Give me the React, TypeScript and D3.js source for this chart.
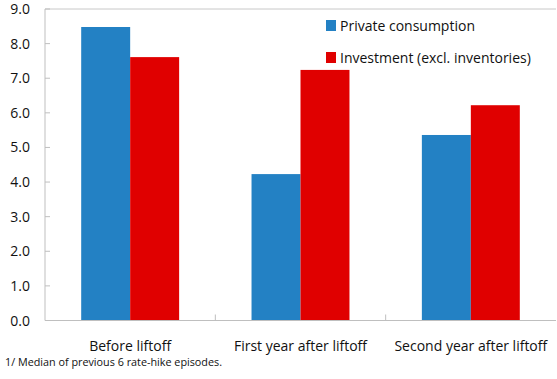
import React from "react";
import * as d3 from "d3";

const categories = ["Before liftoff", "First year after liftoff", "Second year after liftoff"];
const seriesNames = ["Private consumption", "Investment (excl. inventories)"];
const privateConsumption = [8.48, 4.23, 5.36];
const investment = [7.61, 7.24, 6.22];
const yTicks = [0, 1, 2, 3, 4, 5, 6, 7, 8, 9];
const colors = ["#2381C4", "#E00000"];
const footnote = "1/ Median of previous 6 rate-hike episodes.";

const W = 557;
const H = 379;
const m = { left: 45, right: 556, top: 9, bottom: 320.5 };
const FONT = "'Open Sans', sans-serif";

export default function App() {
  const x = d3
    .scaleBand<string>()
    .domain(categories)
    .range([m.left, m.right])
    .paddingInner(0.425)
    .paddingOuter(0.2125);
  const xs = d3.scaleBand<string>().domain(seriesNames).range([0, x.bandwidth()]);
  const y = d3.scaleLinear().domain([0, 9]).range([m.bottom, m.top]);
  const series = [privateConsumption, investment];
  const step = x.step();
  const boundaries = categories.slice(1).map((c) => (x(c) as number) - (step - x.bandwidth()) / 2);

  return (
    <svg width={W} height={H} style={{ position: "absolute", left: 0, top: 0 }} fontFamily={FONT}>
      <rect width={W} height={H} fill="#fff" />
      {series.map((vals, si) =>
        vals.map((v, ci) => (
          <rect
            key={`${si}-${ci}`}
            x={(x(categories[ci]) as number) + (xs(seriesNames[si]) as number)}
            y={y(v)}
            width={xs.bandwidth()}
            height={y(0) - y(v)}
            fill={colors[si]}
          />
        ))
      )}
      <line x1={m.left} x2={m.right} y1={m.top} y2={m.top} stroke="#C8C8C8" />
      <line x1={m.left} x2={m.left} y1={m.top} y2={m.bottom} stroke="#BFBFBF" />
      <line x1={m.left} x2={m.right} y1={m.bottom} y2={m.bottom} stroke="#BFBFBF" />
      {yTicks.map((t) => (
        <g key={t}>
          <line x1={m.left} x2={m.left + 5} y1={y(t)} y2={y(t)} stroke="#BFBFBF" />
          <text x={30} y={y(t) + 5} textAnchor="end" fontSize={14} fill="#111">
            {t.toFixed(1)}
          </text>
        </g>
      ))}
      {boundaries.map((b, i) => (
        <line key={i} x1={b} x2={b} y1={m.bottom} y2={m.bottom - 6} stroke="#BFBFBF" />
      ))}
      {categories.map((c) => (
        <text
          key={c}
          x={(x(c) as number) + x.bandwidth() / 2}
          y={351}
          textAnchor="middle"
          fontSize={14}
          fill="#111"
        >
          {c}
        </text>
      ))}
      <text x={5} y={366} fontSize={10.8} fill="#111">
        {footnote}
      </text>
      {seriesNames.map((s, i) => (
        <g key={s} transform={`translate(326, ${20 + i * 32})`}>
          <rect width={10} height={11} fill={colors[i]} />
          <text x={14} y={10.5} fontSize={14} fill="#111">
            {s}
          </text>
        </g>
      ))}
    </svg>
  );
}
